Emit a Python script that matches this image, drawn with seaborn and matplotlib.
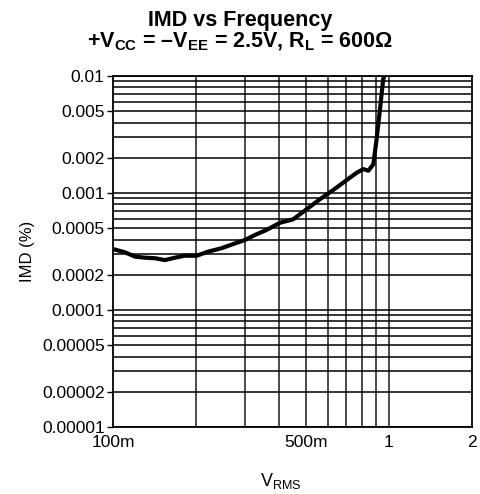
import numpy as np
import pandas as pd
import matplotlib
matplotlib.use("Agg")
import matplotlib.pyplot as plt
import seaborn as sns
from matplotlib.ticker import FixedLocator, NullFormatter, FixedFormatter

# Output amplitude (V RMS) and measured IMD (%)
vrms = [0.100, 0.1105, 0.120, 0.1306, 0.142, 0.154, 0.168, 0.182, 0.201, 0.221,
        0.247, 0.277, 0.301, 0.327, 0.360, 0.403, 0.450, 0.503, 0.562, 0.628,
        0.703, 0.764, 0.808, 0.842, 0.878, 0.902, 0.928, 0.953, 0.963]
imd = [0.000332, 0.000311, 0.000286, 0.000280, 0.000277, 0.000267, 0.000280,
       0.000291, 0.000291, 0.000315, 0.000337, 0.000371, 0.000397, 0.000438,
       0.000483, 0.000557, 0.000596, 0.000726, 0.000884, 0.00106, 0.00129,
       0.00149, 0.00160, 0.00155, 0.00176, 0.00288, 0.00519, 0.00937, 0.0100]

x_ticks = [0.1, 0.5, 1, 2]
x_labels = ["100m", "500m", "1", "2"]
y_ticks = [0.00001, 0.00002, 0.00005, 0.0001, 0.0002, 0.0005,
           0.001, 0.002, 0.005, 0.01]
y_labels = ["0.00001", "0.00002", "0.00005", "0.0001", "0.0002", "0.0005",
            "0.001", "0.002", "0.005", "0.01"]

sns.set_style("white")
plt.rcParams["font.family"] = ["Liberation Sans", "DejaVu Sans"]
plt.rcParams["mathtext.fontset"] = "custom"
plt.rcParams["mathtext.rm"] = "Liberation Sans"
plt.rcParams["mathtext.bf"] = "Liberation Sans:bold"
plt.rcParams["mathtext.it"] = "Liberation Sans:italic"
for key in ("text.color", "axes.labelcolor", "xtick.color", "ytick.color",
            "axes.edgecolor"):
    plt.rcParams[key] = "black"

df = pd.DataFrame({"vrms": vrms, "imd": imd})

W, H = 481, 494
fig = plt.figure(figsize=(W / 100, H / 100), dpi=100)
ax = fig.add_axes([113 / W, 1 - 427 / H, (472 - 113) / W, (427 - 76) / H])

ax.set_xscale("log")
ax.set_yscale("log")
ax.set_xlim(0.1, 2)
ax.set_ylim(0.00001, 0.01)

# grid: vertical lines 0.2..1, horizontal lines at every n*10^k
vgrid = [0.1 * n for n in range(2, 11)]
hgrid = [n * 10.0 ** k for k in range(-5, -2) for n in range(1, 10)] + [0.01]
for xv in vgrid:
    ax.axvline(xv, color="#1a1a1a", lw=1.1, zorder=1)
for yv in hgrid:
    ax.axhline(yv, color="black", lw=1.1, zorder=1)

sns.lineplot(data=df, x="vrms", y="imd", ax=ax, color="black", lw=3.0,
             zorder=3, legend=False)

ax.xaxis.set_major_locator(FixedLocator(x_ticks))
ax.xaxis.set_major_formatter(FixedFormatter(x_labels))
ax.xaxis.set_minor_locator(FixedLocator([]))
ax.xaxis.set_minor_formatter(NullFormatter())
ax.yaxis.set_major_locator(FixedLocator(y_ticks))
ax.yaxis.set_major_formatter(FixedFormatter(y_labels))
ax.yaxis.set_minor_locator(FixedLocator([]))
ax.yaxis.set_minor_formatter(NullFormatter())

ax.tick_params(axis="y", which="major", direction="out", length=4, width=1,
               color="black", labelsize=12.5, pad=2, left=True)
ax.tick_params(axis="x", which="major", length=0, labelsize=12.5, pad=6)

for s in ax.spines.values():
    s.set_color("black")
    s.set_linewidth(1.3)
    s.set_visible(True)

ax.set_xlabel(r"V$_{\mathrm{RMS}}$", fontsize=13, va="center", ha="center")
ax.xaxis.set_label_coords((281 - 113) / 359, (427 - 481) / 351)
ax.set_ylabel("IMD (%)", fontsize=12, va="center", ha="center")
ax.yaxis.set_label_coords((27 - 113) / 359, 0.5)

fig.text(0.5, 1 - 26 / H, "IMD vs Frequency", ha="center", va="baseline",
         fontsize=15.5, fontweight="bold")
fig.text(0.5, 1 - 47 / H,
         r"+V$_{\mathbf{CC}}$ = –V$_{\mathbf{EE}}$ = 2.5V, R$_{\mathbf{L}}$ = 600Ω",
         ha="center", va="baseline", fontsize=15.5, fontweight="bold")

fig.savefig("out.png", dpi=100)
